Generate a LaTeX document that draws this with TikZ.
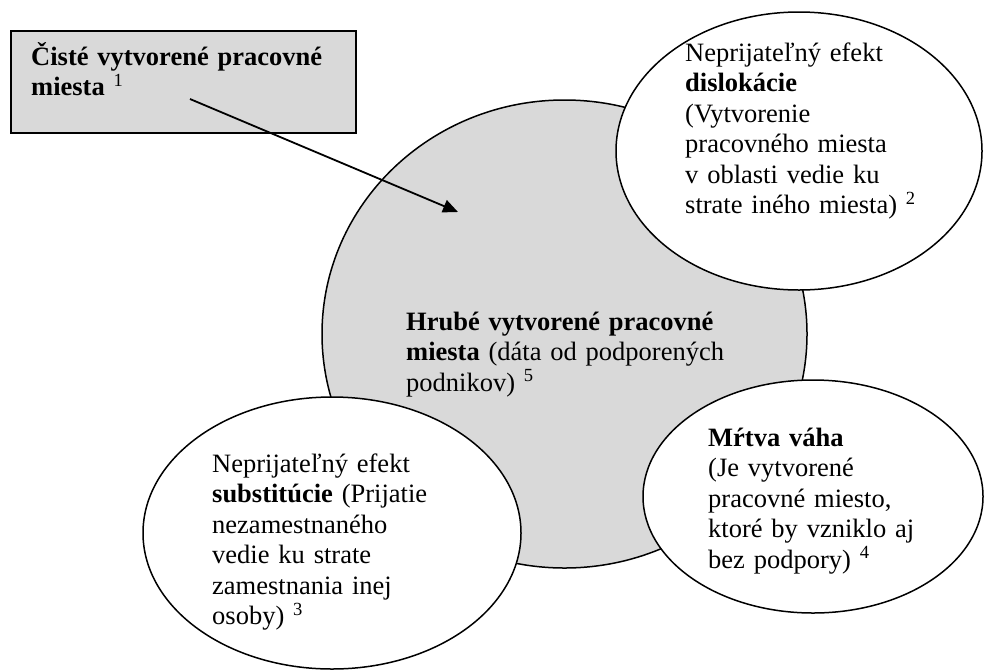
\documentclass[tikz,border=0pt]{standalone}
\usepackage{fontspec}
\setmainfont{Liberation Serif}
\usetikzlibrary{shapes.geometric,arrows.meta}
\definecolor{grayfill}{RGB}{217,217,217}
\begin{document}
\begin{tikzpicture}[x=1pt,y=1pt,
  txt/.style={font=\fontsize{26.5}{30.5}\selectfont, align=left, inner sep=0pt, anchor=base west},
  bubble/.style={ellipse, draw=black, line width=1.5pt, fill=white, inner sep=0pt},
  netbox/.style={draw=black, line width=1.8pt, fill=grayfill, inner sep=0pt, anchor=north west},
  arrowline/.style={line width=1.8pt, -{Triangle[length=15pt,width=13pt]}}
  ]
\useasboundingbox (0,0) rectangle (984,-670);
% big gross circle
\node[bubble, fill=grayfill, minimum width=485, minimum height=468] (gross) at (564.5,-334) {};
% surrounding ellipses
\node[bubble, minimum width=366, minimum height=278] (disl) at (799,-151) {};
\node[bubble, minimum width=378, minimum height=272] (subs) at (332,-533) {};
\node[bubble, minimum width=340, minimum height=233] (dead) at (813,-496.5) {};
% net box
\node[netbox, minimum width=345, minimum height=102] (net) at (10,-30) {};
% texts
\node[txt, text width=320] (nettext) at (31,-65) {\textbf{Čisté vytvorené pracovné}\\\textbf{miesta} \textsuperscript{1}};
\node[txt, text width=295] (disltext) at (685,-61) {Neprijateľný efekt\\\textbf{dislokácie}\\(Vytvorenie\\pracovného miesta\\v oblasti vedie ku\\strate iného miesta) \textsuperscript{2}};
\node[txt, text width=360] (grosstext) at (406,-330) {\textbf{Hrubé vytvorené pracovné}\\\textbf{miesta} (dáta od podporených\\podnikov) \textsuperscript{5}};
\node[txt, text width=300] (substext) at (212,-472) {Neprijateľný efekt\\\textbf{substitúcie} (Prijatie\\nezamestnaného\\vedie ku strate\\zamestnania inej\\osoby) \textsuperscript{3}};
\node[txt, text width=270] (deadtext) at (708,-446) {\textbf{Mŕtva váha}\\(Je vytvorené\\pracovné miesto,\\ktoré by vzniklo aj\\bez podpory) \textsuperscript{4}};
% arrow
\coordinate (arrS) at (190,-99);
\coordinate (arrE) at (458,-212);
\draw[arrowline] (arrS) -- (arrE);
\end{tikzpicture}
\end{document}
